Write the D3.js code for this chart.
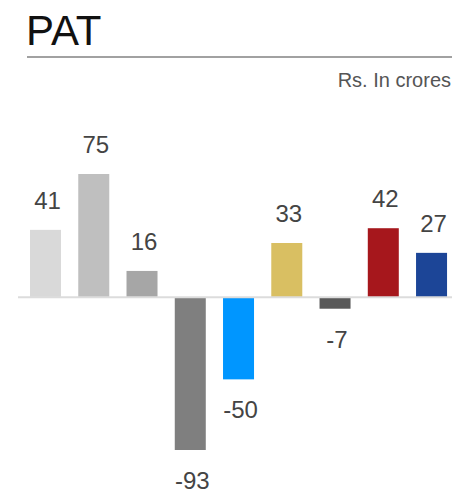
<!DOCTYPE html>
<html>
<head>
<meta charset="utf-8">
<script src="https://cdn.jsdelivr.net/npm/d3@7"></script>
<style>
  body { margin: 0; background: #fff; }
  svg { display: block; font-family: "Liberation Sans", Arial, sans-serif; }
</style>
</head>
<body>
<div class="pat-chart"></div>
<script>
// values in Rs. crores
const categories = ["a", "b", "c", "d", "e", "f", "g", "h", "i"];
const values = [41, 75, 16, -93, -50, 33, -7, 42, 27];
const colors = ["#d9d9d9", "#bfbfbf", "#a6a6a6", "#7f7f7f", "#0096ff", "#d9bf62", "#595959", "#a6171c", "#1c4597"];

const width = 452;
const height = 492;

const svg = d3.select('.pat-chart')
	.append('svg')
	.attr('width', width)
	.attr('height', height);

// title + rule
svg.append('text')
	.attr('x', 26)
	.attr('y', 45)
	.attr('font-size', 42)
	.attr('fill', '#111')
	.text('PAT');

svg.append('line')
	.attr('x1', 27).attr('x2', width)
	.attr('y1', 57).attr('y2', 57)
	.attr('stroke', '#444')
	.attr('stroke-width', 1.2);

svg.append('text')
	.attr('x', 451)
	.attr('y', 87)
	.attr('text-anchor', 'end')
	.attr('font-size', 20)
	.attr('fill', '#555')
	.text('Rs. In crores');

const x = d3.scaleBand()
	.domain(categories)
	.range([12.75, 464.3])
	.padding(0.3575);

const y = d3.scaleLinear()
	.domain([-93, 75])
	.range([450, 174]);

svg.selectAll('rect')
	.data(values)
	.enter()
	.append('rect')
	.attr('x', (d, i) => x(categories[i]))
	.attr('y', d => y(Math.max(0, d)))
	.attr('width', x.bandwidth())
	.attr('height', d => Math.abs(y(d) - y(0)))
	.attr('fill', (d, i) => colors[i]);

// zero line
svg.append('line')
	.attr('x1', 18).attr('x2', width)
	.attr('y1', y(0)).attr('y2', y(0))
	.attr('stroke', '#dcdcdc')
	.attr('stroke-width', 2);

svg.selectAll('.label')
	.data(values)
	.enter()
	.append('text')
	.attr('class', 'label')
	.attr('x', (d, i) => x(categories[i]) + x.bandwidth() / 2 + 2)
	.attr('y', d => d >= 0 ? y(d) - 21 : y(d) + 39)
	.attr('text-anchor', 'middle')
	.attr('font-size', 24)
	.attr('fill', '#444')
	.text(d => d);
</script>
</body>
</html>
